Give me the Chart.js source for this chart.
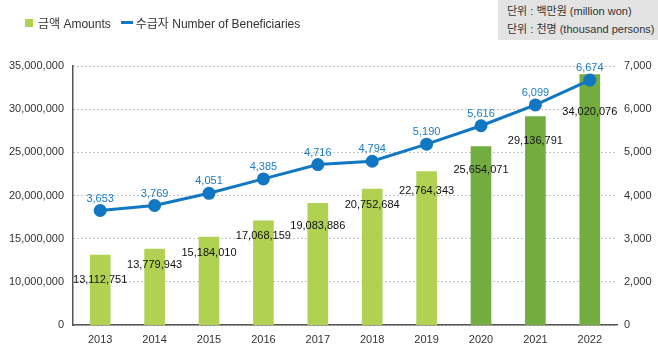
<!DOCTYPE html>
<html>
<head>
<meta charset="utf-8">
<script src="https://cdn.jsdelivr.net/npm/chart.js@4"></script>
<style>
  body { margin: 0; background: #fff; font-family: "Liberation Sans", Arial, "Noto Sans CJK KR", sans-serif; }
  #wrap { position: relative; width: 658px; height: 364px; }
  #legend { position: absolute; left: 25px; top: 14px; font-size: 12px; color: #333; display: flex; align-items: center; white-space: nowrap; }
  #legend .sq { width: 8px; height: 8px; background: #b1d153; margin-right: 5px; }
  #legend .ln { width: 12px; height: 3px; background: #1177c2; margin: 0 3px 0 10px; }
  #unit { position: absolute; left: 498px; top: 0; width: 160px; height: 40px; background: #e3e3e3; white-space: nowrap;
          font-size: 11px; color: #333; line-height: 18px; padding: 2px 0 0 9px; box-sizing: border-box; }
</style>
</head>
<body>
<div id="wrap">
  <canvas id="chart" width="658" height="364"></canvas>
  <div id="legend"><span class="sq"></span><span>금액 Amounts</span><span class="ln"></span><span>수급자 Number of Beneficiaries</span></div>
  <div id="unit">단위 : 백만원 (million won)<br>단위 : 천명 (thousand persons)</div>
</div>
<script>
// data
const years = ['2013', '2014', '2015', '2016', '2017', '2018', '2019', '2020', '2021', '2022'];
const amounts = [13112751, 13779943, 15184010, 17068159, 19083886, 20752684, 22764343, 25654071, 29136791, 34020076];
const beneficiaries = [3653, 3769, 4051, 4385, 4716, 4794, 5190, 5616, 6099, 6674];

// the axes are broken: bottom tick is shown as 0
const leftMin = 5000000, leftMax = 35000000, leftStep = 5000000;
const rightMin = 1000, rightMax = 7000, rightStep = 1000;

// label nudges below bar tops (px), as placed in the original
const barLabelDy = [25, 16, 16, 15, 23, 16, 19, 23, 24, 38];

const fmt = v => v.toLocaleString('en-US');
const barColors = years.map((y, i) => i >= 7 ? '#74ad3f' : '#b1d153');

// draw value labels on bars and points
const valueLabels = {
    id: 'valueLabels',
    afterDatasetsDraw(chart) {
        const ctx = chart.ctx;
        ctx.save();
        ctx.font = '11px "Liberation Sans", Arial, sans-serif';
        ctx.textAlign = 'center';
        ctx.textBaseline = 'middle';
        chart.getDatasetMeta(1).data.forEach((el, i) => {
            ctx.fillStyle = '#111';
            ctx.fillText(fmt(amounts[i]), el.x, el.y + barLabelDy[i]);
        });
        chart.getDatasetMeta(0).data.forEach((el, i) => {
            ctx.fillStyle = '#1a7cc3';
            ctx.fillText(fmt(beneficiaries[i]), el.x, el.y - 12);
        });
        ctx.restore();
    }
};

const tickFont = { family: '"Liberation Sans", Arial, sans-serif', size: 11 };

const config = {
    data: {
        labels: years,
        datasets: [
            {
                type: 'line',
                data: beneficiaries,
                yAxisID: 'y1',
                borderColor: '#1177c2',
                backgroundColor: '#1177c2',
                borderWidth: 3,
                pointRadius: 5,
                pointHoverRadius: 5,
                tension: 0,
                order: 0
            },
            {
                type: 'bar',
                data: amounts,
                yAxisID: 'y',
                backgroundColor: barColors,
                barThickness: 20,
                order: 1
            }
        ]
    },
    options: {
        responsive: false,
        animation: false,
        layout: { padding: { top: 66, left: 0, right: 0, bottom: 0 } },
        plugins: { legend: { display: false }, tooltip: { enabled: false } },
        scales: {
            x: {
                offset: true,
                grid: { display: false, drawTicks: false },
                border: { color: '#555', width: 1.5 },
                ticks: { color: '#333', font: tickFont, padding: 8 },
                afterFit: s => { s.height = 39; }
            },
            y: {
                position: 'left',
                min: leftMin, max: leftMax,
                ticks: {
                    stepSize: leftStep,
                    color: '#333', font: tickFont, padding: 9,
                    callback: v => v === leftMin ? '0' : fmt(v)
                },
                // dotted gridlines (v4 puts the dash on border)
                grid: { color: '#8c8c8c', drawTicks: false },
                border: { color: '#555', width: 1.5, dash: [1, 3] },
                afterFit: s => { s.width = 73; }
            },
            y1: {
                position: 'right',
                min: rightMin, max: rightMax,
                ticks: {
                    stepSize: rightStep,
                    color: '#333', font: tickFont, padding: 7,
                    callback: v => v === rightMin ? '0' : fmt(v)
                },
                grid: { display: false, drawTicks: false },
                border: { display: false },
                afterFit: s => { s.width = 41; }
            }
        }
    },
    plugins: [valueLabels]
};

const chart = new Chart(document.getElementById('chart'), config);
</script>
</body>
</html>
